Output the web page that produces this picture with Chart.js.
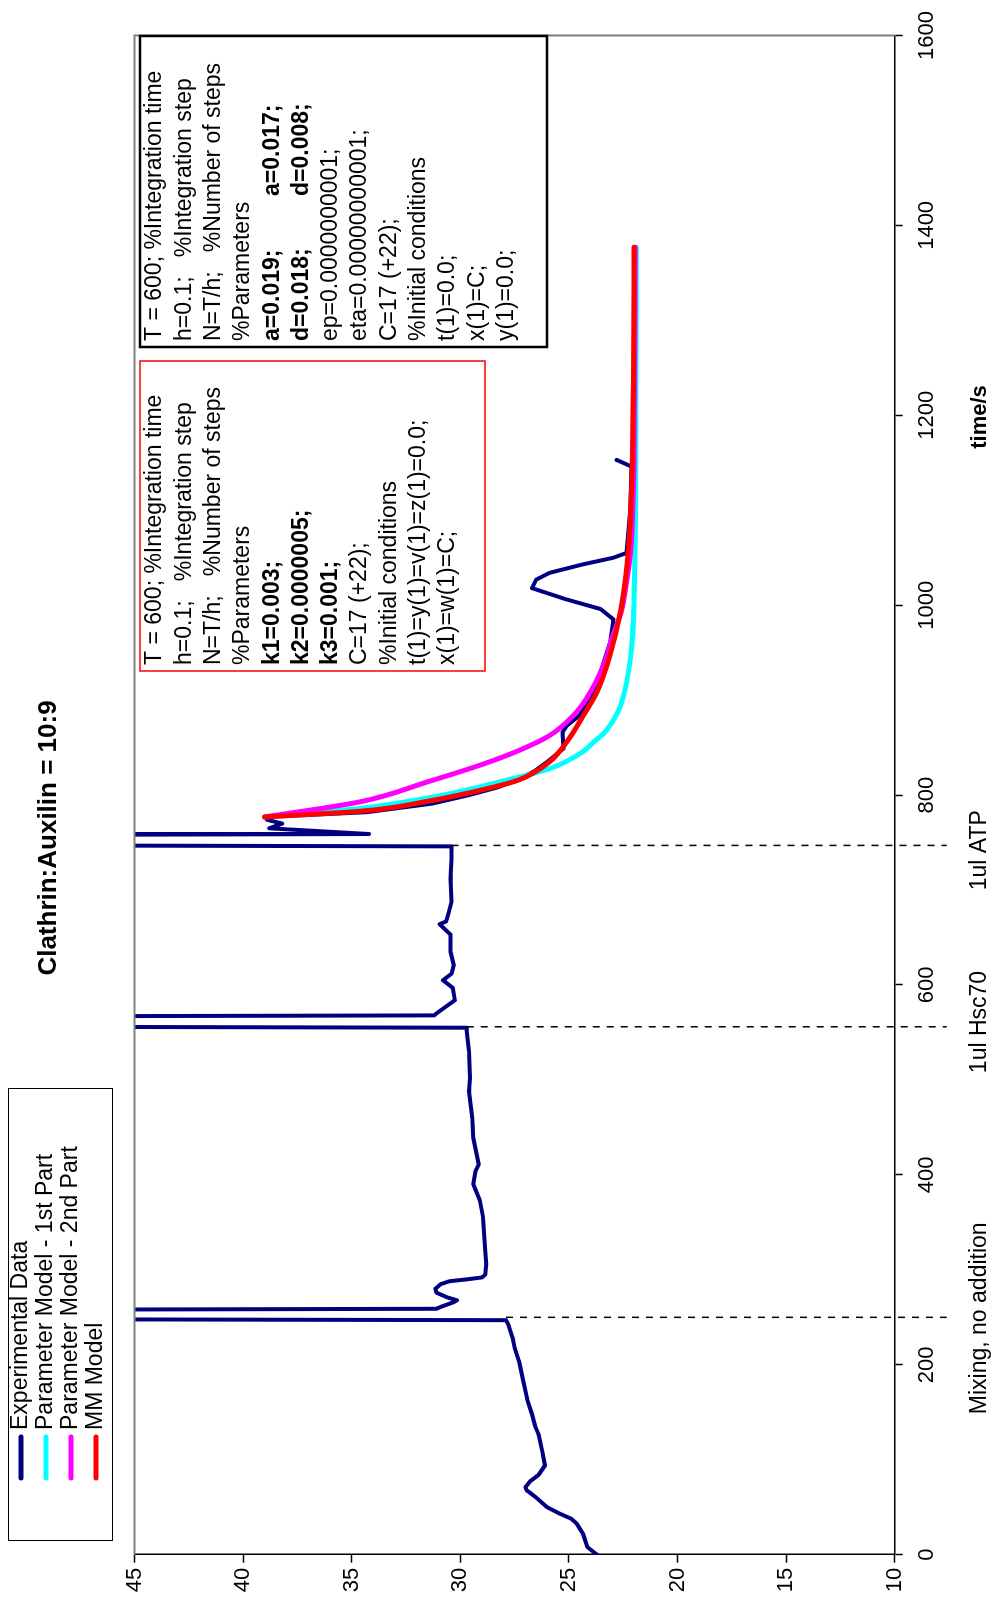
<!DOCTYPE html>
<html>
<head>
<meta charset="utf-8">
<script src="https://cdn.jsdelivr.net/npm/chart.js@4.4.0/dist/chart.umd.min.js"></script>
<style>
    html, body { margin: 0; padding: 0; background: #fff; overflow: hidden; }
    /* the chart is drawn landscape and turned a quarter turn, like the original sheet */
    #wrap {
        position: absolute; left: 0; top: 0;
        width: 1602px; height: 1000px;
        transform-origin: 0 0;
        transform: translateY(1602px) rotate(-90deg);
    }
</style>
</head>
<body>
<div id="wrap"><canvas id="clathrinChart" width="1602" height="1000"></canvas></div>
<script>
// ---- data (time in s, signal value) ----
// 50 = reading above the top of the axis (clipped by the plot area)
const expTime = [0, 8, 22, 33, 38, 43, 50, 61, 68, 71, 77, 84, 89, 94, 106, 127, 135, 148, 162, 183, 204, 218, 229, 243, 247,
    248, 258, 259, 261, 266, 268, 271, 276, 280, 285, 288, 290, 292, 295, 306, 320, 355, 373, 390, 404, 411, 439, 460, 488, 502, 530, 551, 555,
    556, 567, 568, 570, 584, 597, 605, 612, 621, 635, 653, 664, 667, 675, 688, 712, 733, 746,
    747, 758, 759, 765, 770, 774, 777, 782, 791, 800, 808, 815, 825, 835, 849, 866, 873, 884, 901, 929, 961, 985,
    996, 1006, 1018, 1027, 1034, 1043, 1050, 1055, 1100, 1146, 1153];
const expValue = [23.7, 24.15, 24.35, 24.65, 24.9, 25.4, 26.0, 26.55, 26.95, 27.0, 26.8, 26.4, 26.25, 26.1, 26.2, 26.4, 26.55, 26.7, 26.9, 27.1, 27.3, 27.5, 27.6, 27.8, 27.9,
    50, 50, 31.1, 30.9, 30.3, 30.15, 30.6, 31.1, 31.15, 30.9, 30.5, 29.7, 29.0, 28.85, 28.8, 28.85, 28.95, 29.1, 29.4, 29.3, 29.15, 29.4, 29.45, 29.6, 29.55, 29.6, 29.7, 29.7,
    50, 50, 31.2, 31.1, 30.25, 30.35, 30.8, 30.4, 30.3, 30.45, 30.45, 30.95, 30.65, 30.55, 30.4, 30.45, 30.4, 30.4,
    50, 50, 34.2, 38.8, 38.2, 38.9, 39.0, 34.3, 31.3, 29.6, 28.3, 27.5, 26.6, 26.0, 25.25, 25.3, 25.1, 24.5, 24.0, 23.55, 23.1, 22.95,
    23.55, 25.1, 26.7, 26.5, 25.9, 24.35, 22.95, 22.35, 22.18, 22.12, 22.8];

const part1Time = [777, 786, 800, 815, 828, 845, 856, 866, 889, 919, 954, 1006, 1146, 1377];
const part1Value = [39.0, 34.6, 30.8, 28.0, 25.87, 24.4, 23.85, 23.35, 22.72, 22.34, 22.12, 22.0, 21.92, 21.9];

const part2Time = [777, 793, 814, 833, 847, 863, 884, 905, 936, 968, 992, 1024, 1059, 1094, 1146, 1377];
const part2Value = [39.0, 34.6, 31.5, 28.9, 27.3, 25.87, 24.79, 24.1, 23.42, 22.98, 22.6, 22.35, 22.15, 22.07, 22.0, 21.95];

const mmTime = [777, 783, 793.5, 806, 816, 835, 856, 884, 908, 947, 996, 1059, 1234, 1377];
const mmValue = [39.0, 34.6, 31.5, 28.9, 27.3, 25.9, 25.1, 24.33, 23.72, 23.11, 22.6, 22.26, 22.03, 22.0];

const seriesNames = ['Experimental Data', 'Parameter Model - 1st Part', 'Parameter Model - 2nd Part', 'MM Model'];
const seriesColors = ['#000080', '#00FFFF', '#FF00FF', '#FF0000'];

// additions marked on the time axis
const markTimes = [250, 556, 747];
const markStart = [27.9, 29.7, 30.4];
const markLabels = ['Mixing, no addition', '1ul Hsc70', '1ul ATP'];
const markLabelTimes = [249, 561, 742];

const redBoxText = ['T = 600; %Integration time', 'h=0.1;   %Integration step', 'N=T/h;   %Number of steps', '%Parameters',
    'k1=0.003;', 'k2=0.0000005;', 'k3=0.001;', 'C=17 (+22);', '%Initial conditions', 't(1)=y(1)=v(1)=z(1)=0.0;', 'x(1)=w(1)=C;'];
const redBoxBold = [4, 5, 6];
const blackBoxText = ['T = 600; %Integration time', 'h=0.1;   %Integration step', 'N=T/h;   %Number of steps', '%Parameters',
    ['a=0.019;', 'a=0.017;'], ['d=0.018;', 'd=0.008;'], 'ep=0.0000000001;', 'eta=0.00000000001;', 'C=17 (+22);',
    '%Initial conditions', 't(1)=0.0;', 'x(1)=C;', 'y(1)=0.0;'];
const blackBoxBold = [4, 5];

const FONT = '"Liberation Sans", Arial, sans-serif';
Chart.defaults.font.family = FONT;
Chart.defaults.color = '#000';

function toPoints(t, v) {
    return t.map((x, i) => ({ x: x, y: v[i] }));
}

function drawText(ctx, str, x, y, font, align) {
    ctx.font = font;
    ctx.textAlign = align || 'left';
    ctx.textBaseline = 'middle';
    ctx.fillStyle = '#000';
    ctx.fillText(str, x, y);
}

function drawTextBox(ctx, box, lines, bold, border, borderWidth) {
    ctx.fillStyle = '#fff';
    ctx.fillRect(box.x, box.y, box.w, box.h);
    ctx.strokeStyle = border;
    ctx.lineWidth = borderWidth;
    ctx.strokeRect(box.x, box.y, box.w, box.h);
    lines.forEach((line, i) => {
        const font = (bold.includes(i) ? 'bold ' : '') + '23px ' + FONT;
        const ly = box.y + 15 + i * 29.3;
        if (Array.isArray(line)) {
            drawText(ctx, line[0], box.x + 6, ly, font);
            drawText(ctx, line[1], box.x + 151, ly, font);
        } else {
            drawText(ctx, line, box.x + 6, ly, font);
        }
    });
}

const extrasPlugin = {
    id: 'extras',
    afterDatasetsDraw(chart) {
        const { ctx, chartArea: a, scales: { x, y } } = chart;
        ctx.save();

        // grey frame on the two sides that carry no axis
        ctx.strokeStyle = '#808080';
        ctx.lineWidth = 2;
        ctx.beginPath();
        ctx.moveTo(a.left, a.top);
        ctx.lineTo(a.right, a.top);
        ctx.lineTo(a.right, a.bottom);
        ctx.stroke();

        // dashed markers for each addition
        ctx.strokeStyle = '#000';
        ctx.lineWidth = 1.5;
        ctx.setLineDash([7, 7]);
        markTimes.forEach((t, i) => {
            const px = x.getPixelForValue(t);
            ctx.beginPath();
            ctx.moveTo(px, y.getPixelForValue(markStart[i]));
            ctx.lineTo(px, a.bottom + 52);
            ctx.stroke();
        });
        ctx.setLineDash([]);

        markLabels.forEach((lbl, i) => {
            drawText(ctx, lbl, x.getPixelForValue(markLabelTimes[i]), 980, '23px ' + FONT, 'center');
        });
        drawText(ctx, 'time/s', 1185, 980, 'bold 22px ' + FONT, 'center');

        // title
        drawText(ctx, 'Clathrin:Auxilin = 10:9', 764, 49, 'bold 26px ' + FONT, 'center');

        // legend
        ctx.strokeStyle = '#000';
        ctx.lineWidth = 1;
        ctx.strokeRect(61.5, 8.5, 452, 104);
        seriesNames.forEach((name, i) => {
            const ly = 21 + i * 25;
            ctx.strokeStyle = seriesColors[i];
            ctx.lineWidth = 5;
            ctx.lineCap = 'round';
            ctx.beginPath();
            ctx.moveTo(124, ly);
            ctx.lineTo(165, ly);
            ctx.stroke();
            drawText(ctx, name, 172, ly, '23px ' + FONT);
        });
        ctx.lineCap = 'butt';

        // model parameter notes
        drawTextBox(ctx, { x: 931, y: 140, w: 310, h: 345 }, redBoxText, redBoxBold, '#FF0000', 1.5);
        drawTextBox(ctx, { x: 1255, y: 140, w: 311, h: 407 }, blackBoxText, blackBoxBold, '#000', 2.5);

        ctx.restore();
    }
};

const ctx = document.getElementById('clathrinChart').getContext('2d');
new Chart(ctx, {
    type: 'line',
    data: {
        datasets: [
            { label: seriesNames[3], data: toPoints(mmTime, mmValue), borderColor: seriesColors[3], borderWidth: 5, order: 1, cubicInterpolationMode: 'monotone' },
            { label: seriesNames[2], data: toPoints(part2Time, part2Value), borderColor: seriesColors[2], borderWidth: 5, order: 2, cubicInterpolationMode: 'monotone' },
            { label: seriesNames[1], data: toPoints(part1Time, part1Value), borderColor: seriesColors[1], borderWidth: 5, order: 3, cubicInterpolationMode: 'monotone' },
            { label: seriesNames[0], data: toPoints(expTime, expValue), borderColor: seriesColors[0], borderWidth: 4, order: 4, tension: 0 }
        ]
    },
    options: {
        responsive: false,
        animation: false,
        devicePixelRatio: 1,
        layout: { padding: { top: 134.5, right: 31.2, bottom: 0, left: 0 } },
        elements: {
            point: { radius: 0 },
            line: { borderJoinStyle: 'round', borderCapStyle: 'round', fill: false }
        },
        plugins: {
            legend: { display: false },
            title: { display: false },
            tooltip: { enabled: false }
        },
        scales: {
            x: {
                type: 'linear',
                min: 0,
                max: 1600,
                ticks: { stepSize: 200, font: { size: 22 }, padding: 11, maxRotation: 0, callback: v => String(v) },
                grid: { display: true, drawOnChartArea: false, tickLength: 8, color: '#000', tickWidth: 1.5 },
                border: { display: true, color: '#000', width: 1.5 },
                afterFit(scale) { scale.height = 105.3; }
            },
            y: {
                min: 10,
                max: 45,
                ticks: { stepSize: 5, font: { size: 22 }, padding: 5, callback: v => String(v) },
                grid: { display: true, drawOnChartArea: false, tickLength: 8, color: '#000', tickWidth: 1.5 },
                border: { display: true, color: '#000', width: 1.5 },
                afterFit(scale) { scale.width = 47.3; }
            }
        }
    },
    plugins: [extrasPlugin]
});
</script>
</body>
</html>
